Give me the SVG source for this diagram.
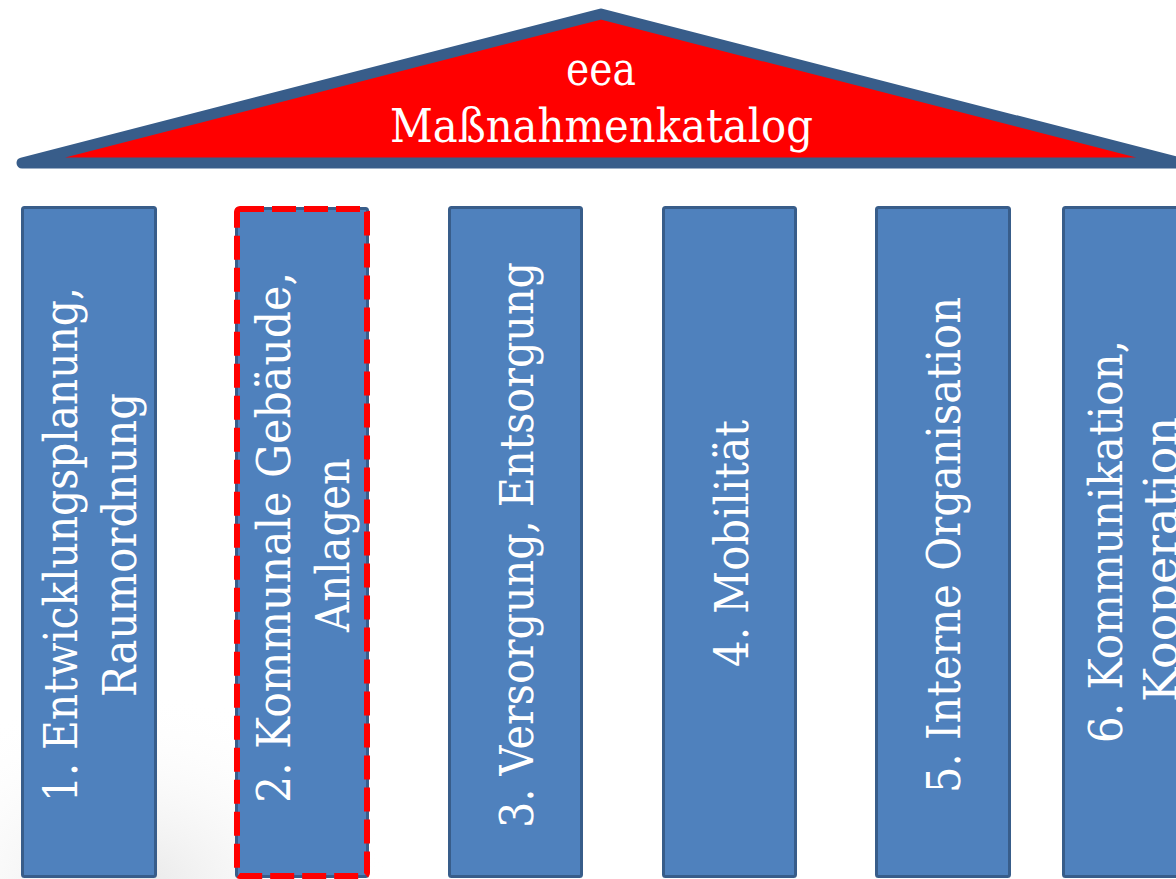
<svg xmlns="http://www.w3.org/2000/svg" width="1176" height="879" viewBox="0 0 1176 879">
<defs>
<radialGradient id="smudge" cx="0.5" cy="0.5" r="0.5">
<stop offset="0" stop-color="#dcdcdc" stop-opacity="0.7"/>
<stop offset="1" stop-color="#ffffff" stop-opacity="0"/>
</radialGradient>
</defs>
<style>
.pillar{fill:#4f81bd;stroke:#385d8a;stroke-width:3}
.sel{fill:none;stroke:#ff0000;stroke-width:6;stroke-dasharray:24 8}
.lbl{font-family:"DejaVu Serif","Liberation Serif",serif;font-size:46px;fill:#ffffff}
.title{font-family:"DejaVu Serif","Liberation Serif",serif;font-size:46px;fill:#ffffff;text-anchor:middle}
</style>
<rect width="1176" height="879" fill="#ffffff"/>
<ellipse cx="130" cy="890" rx="260" ry="200" fill="url(#smudge)"/>
<g id="roof">
<polygon points="22,163 601,14 1180,163" fill="#ff0000" stroke="#385d8a" stroke-width="11" stroke-linejoin="round"/>
<text class="title" x="601" y="85" textLength="70" lengthAdjust="spacingAndGlyphs">eea</text>
<text class="title" x="601.5" y="142" textLength="423" lengthAdjust="spacingAndGlyphs">Maßnahmenkatalog</text>
</g>
<g id="pillar1">
<rect class="pillar" x="22.5" y="207.5" width="133" height="669" rx="2"/>
<text class="lbl" transform="translate(77,802) rotate(-90)" textLength="515" lengthAdjust="spacingAndGlyphs">1. Entwicklungsplanung,</text>
<text class="lbl" transform="translate(136,697) rotate(-90)" textLength="304" lengthAdjust="spacingAndGlyphs">Raumordnung</text>
</g>
<g id="pillar2">
<rect class="pillar" x="236.5" y="208.5" width="131" height="668" rx="2"/>
<text class="lbl" transform="translate(290,803) rotate(-90)" textLength="531" lengthAdjust="spacingAndGlyphs">2. Kommunale Gebäude,</text>
<text class="lbl" transform="translate(349,632) rotate(-90)" textLength="174" lengthAdjust="spacingAndGlyphs">Anlagen</text>
<rect class="sel" x="237" y="209" width="130" height="667" rx="3"/>
</g>
<g id="pillar3">
<rect class="pillar" x="449.5" y="207.5" width="132" height="669" rx="2"/>
<text class="lbl" transform="translate(533,828) rotate(-90)" textLength="566" lengthAdjust="spacingAndGlyphs">3. Versorgung, Entsorgung</text>
</g>
<g id="pillar4">
<rect class="pillar" x="663.5" y="207.5" width="132" height="669" rx="2"/>
<text class="lbl" transform="translate(748,667) rotate(-90)" textLength="247" lengthAdjust="spacingAndGlyphs">4. Mobilität</text>
</g>
<g id="pillar5">
<rect class="pillar" x="876.5" y="207.5" width="133" height="669" rx="2"/>
<text class="lbl" transform="translate(960,793) rotate(-90)" textLength="496" lengthAdjust="spacingAndGlyphs">5. Interne Organisation</text>
</g>
<g id="pillar6">
<rect class="pillar" x="1063.5" y="207.5" width="133" height="669" rx="2"/>
<text class="lbl" transform="translate(1122,743) rotate(-90)" textLength="403" lengthAdjust="spacingAndGlyphs">6. Kommunikation,</text>
<text class="lbl" transform="translate(1177,702) rotate(-90)" textLength="285" lengthAdjust="spacingAndGlyphs">Kooperation</text>
</g>
</svg>
